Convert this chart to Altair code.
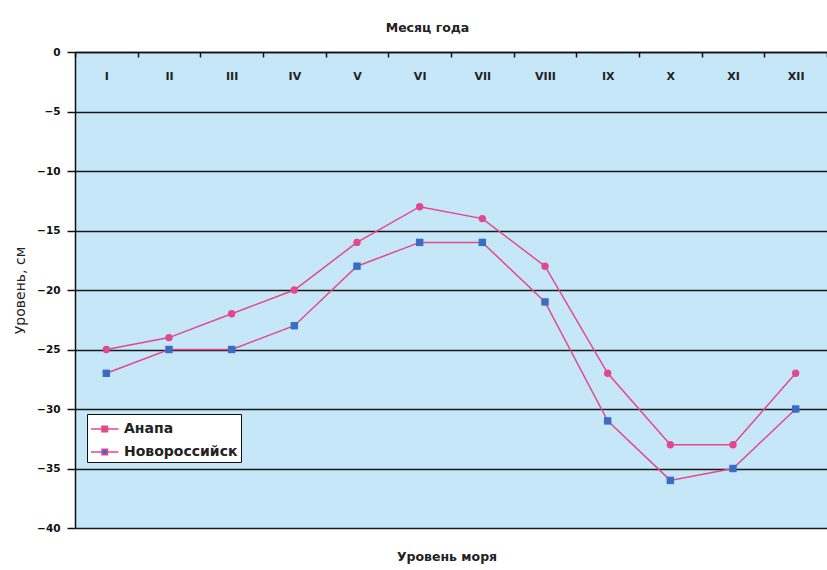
import altair as alt
import pandas as pd

months = ["I", "II", "III", "IV", "V", "VI", "VII", "VIII", "IX", "X", "XI", "XII"]
series_names = ["Анапа", "Новороссийск"]
anapa = [-25, -24, -22, -20, -16, -13, -14, -18, -27, -33, -33, -27]
novoross = [-27, -25, -25, -23, -18, -16, -16, -21, -31, -36, -35, -30]
y_ticks = [0, -5, -10, -15, -20, -25, -30, -35, -40]

rows = []
for m, a, n in zip(months, anapa, novoross):
    rows.append({"month": m, "level": a, "series": series_names[0]})
    rows.append({"month": m, "level": n, "series": series_names[1]})
df = pd.DataFrame(rows)

W, H = 752, 476
PINK = "#e4488c"
BLUE = "#3a6cc4"
FONT = "DejaVu Sans"

x_scale = alt.Scale(domain=months, paddingInner=0, paddingOuter=0)
y_scale = alt.Scale(domain=[-40, 0], nice=False, zero=False)

y_enc = alt.Y(
    "level:Q",
    scale=y_scale,
    axis=alt.Axis(
        values=y_ticks,
        format="d",
        title="Уровень, см",
        titleFont=FONT,
        titleFontSize=14,
        titleFontWeight="normal",
        titleColor="#222",
        titlePadding=9,
        labelFont=FONT,
        labelFontSize=10.5,
        labelFontWeight="bold",
        labelColor="#111",
        labelPadding=7,
        tickColor="#111",
        tickWidth=1.5,
        tickSize=8,
        domainColor="#111",
        domainWidth=1.5,
        grid=True,
        gridColor="#1a1a1a",
        gridWidth=1.5,
        gridOpacity=1,
    ),
)

lines = alt.Chart(df).mark_line(color=PINK, strokeWidth=1.5).encode(
    x=alt.X(
        "month:N",
        sort=months,
        scale=x_scale,
        axis=alt.Axis(
            orient="bottom",
            offset=-H,
            title=None,
            labelAngle=0,
            labelFont=FONT,
            labelFontSize=11,
            labelFontWeight="bold",
            labelColor="#222",
            labelPadding=13,
            tickBand="extent",
            tickSize=5,
            tickColor="#111",
            tickWidth=1.5,
            domainColor="#111",
            domainWidth=1.5,
            grid=False,
        ),
    ),
    y=y_enc,
    detail="series:N",
)

legend = alt.Legend(
    title=None,
    orient="none",
    legendX=12,
    legendY=362,
    symbolType="M-1,0H0M0.5,0H1.5M0,-0.25H0.5V0.25H0Z",
    symbolSize=484,
    symbolStrokeColor=PINK,
    symbolStrokeWidth=1.5,
    labelFont=FONT,
    labelFontSize=14,
    labelFontWeight="bold",
    labelColor="#222",
    labelOffset=10,
    rowPadding=4,
    padding=3,
    fillColor="white",
    strokeColor="#111",
)

fill_enc = alt.Fill(
    "series:N",
    scale=alt.Scale(domain=series_names, range=[PINK, BLUE]),
    legend=legend,
)

x_top = alt.X(
    "month:N",
    sort=months,
    scale=x_scale,
    axis=alt.Axis(
        orient="top",
        title="Месяц года",
        titleFont=FONT,
        titleFontSize=12.5,
        titleFontWeight="bold",
        titleColor="#222",
        titlePadding=18,
        titleX=352,
        titleAlign="center",
        labels=False,
        ticks=False,
        domain=False,
        grid=False,
    ),
)

pts_a = (
    alt.Chart(df)
    .transform_filter(alt.datum.series == series_names[0])
    .mark_point(filled=True, size=55, opacity=1, shape="circle")
    .encode(x=x_top, y=alt.Y("level:Q", scale=y_scale), fill=fill_enc)
)
pts_n = (
    alt.Chart(df)
    .transform_filter(alt.datum.series == series_names[1])
    .mark_point(filled=True, size=55, opacity=1, shape="square")
    .encode(
        x=alt.X("month:N", sort=months, scale=x_scale, axis=None),
        y=alt.Y("level:Q", scale=y_scale),
        fill=fill_enc,
    )
)

chart = (
    alt.layer(lines, pts_a, pts_n)
    .resolve_axis(x="independent")
    .properties(
        width=W,
        height=H,
        autosize=alt.AutoSizeParams(type="none"),
        padding={"left": 75, "top": 52, "right": 0, "bottom": 42},
        title=alt.TitleParams(
            "Уровень моря",
            orient="bottom",
            font=FONT,
            fontSize=12.5,
            fontWeight="bold",
            color="#222",
            offset=17,
            anchor="middle",
            dx=-4,
        ),
        background="white",
    )
    .configure_view(fill="#c6e7f8", stroke=None)
)

chart.save("out.html", embed_options={"renderer": "svg", "actions": False})
